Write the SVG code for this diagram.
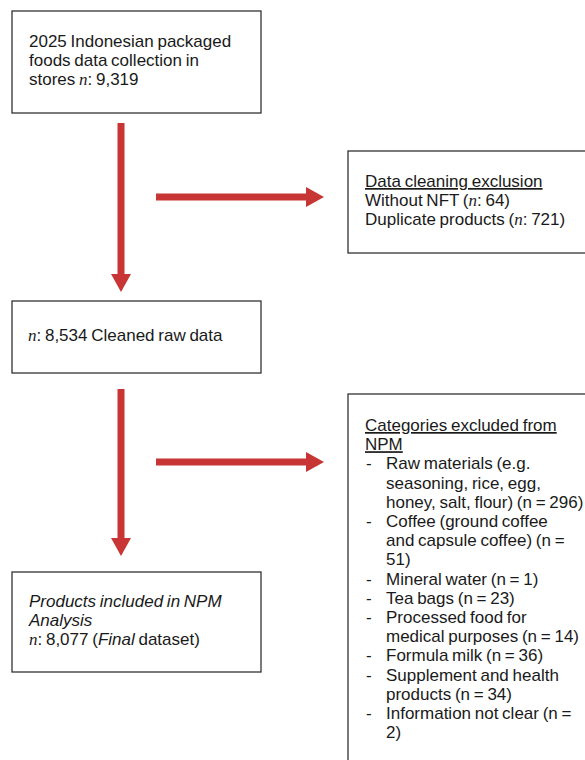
<svg xmlns="http://www.w3.org/2000/svg" width="585" height="760" viewBox="0 0 585 760">
<style>
.box{fill:#fff;stroke:#333;stroke-width:1.3}
text{font-family:"Liberation Sans",Arial,sans-serif;font-size:17px;fill:#1a1a1a;word-spacing:-1px}
.n{font-family:"Liberation Serif","Times New Roman",serif;font-style:italic}
.i{font-style:italic}
.u{text-decoration:underline}
.arr{stroke:#c73535;stroke-width:7;fill:none}
.head{fill:#c73535}
</style>
<rect width="585" height="760" fill="#fff"/>
<g id="connectors">
<line class="arr" x1="121" y1="123" x2="121" y2="276"/>
<polygon class="head" points="111,274 131,274 121,292"/>
<line class="arr" x1="156" y1="197" x2="308" y2="197"/>
<polygon class="head" points="306,187 306,207 324,197"/>
<line class="arr" x1="121" y1="389" x2="121" y2="540"/>
<polygon class="head" points="111,538 131,538 121,556"/>
<line class="arr" x1="156" y1="462" x2="308" y2="462"/>
<polygon class="head" points="306,452 306,472 324,462"/>
</g>
<g id="node-collection">
<rect class="box" x="12" y="11" width="249" height="102"/>
<text x="29" y="47">2025 Indonesian packaged</text>
<text x="29" y="66">foods data collection in</text>
<text x="29" y="85">stores <tspan class="n">n</tspan>: 9,319</text>
</g>
<g id="node-cleaning">
<rect class="box" x="348" y="151" width="250" height="102"/>
<text x="365" y="187"><tspan class="u">Data cleaning exclusion</tspan></text>
<text x="365" y="206">Without NFT (<tspan class="n">n</tspan>: 64)</text>
<text x="365" y="225">Duplicate products (<tspan class="n">n</tspan>: 721)</text>
</g>
<g id="node-cleaned">
<rect class="box" x="12" y="301" width="249" height="72"/>
<text x="28" y="341"><tspan class="n">n</tspan>: 8,534 Cleaned raw data</text>
</g>
<g id="node-categories">
<rect class="box" x="348" y="394" width="250" height="380"/>
<text x="365" y="431"><tspan class="u">Categories excluded from</tspan></text>
<text x="365" y="450.2"><tspan class="u">NPM</tspan></text>
<text x="366" y="469.4">-</text><text x="386" y="469.4">Raw materials (e.g.</text>
<text x="386" y="488.6">seasoning, rice, egg,</text>
<text x="386" y="507.8">honey, salt, flour) (n = 296)</text>
<text x="366" y="527">-</text><text x="386" y="527">Coffee (ground coffee</text>
<text x="386" y="546.2">and capsule coffee) (n =</text>
<text x="386" y="565.4">51)</text>
<text x="366" y="584.6">-</text><text x="386" y="584.6">Mineral water (n = 1)</text>
<text x="366" y="603.8">-</text><text x="386" y="603.8">Tea bags (n = 23)</text>
<text x="366" y="623">-</text><text x="386" y="623">Processed food for</text>
<text x="386" y="642.2">medical purposes (n = 14)</text>
<text x="366" y="661.4">-</text><text x="386" y="661.4">Formula milk (n = 36)</text>
<text x="366" y="680.6">-</text><text x="386" y="680.6">Supplement and health</text>
<text x="386" y="699.8">products (n = 34)</text>
<text x="366" y="719">-</text><text x="386" y="719">Information not clear (n =</text>
<text x="386" y="738.2">2)</text>
</g>
<g id="node-final">
<rect class="box" x="12" y="572" width="249" height="100"/>
<text x="29" y="607" class="i">Products included in NPM</text>
<text x="29" y="626" class="i">Analysis</text>
<text x="29" y="645"><tspan class="n">n</tspan>: 8,077 (<tspan class="i">Final</tspan> dataset)</text>
</g>
</svg>
